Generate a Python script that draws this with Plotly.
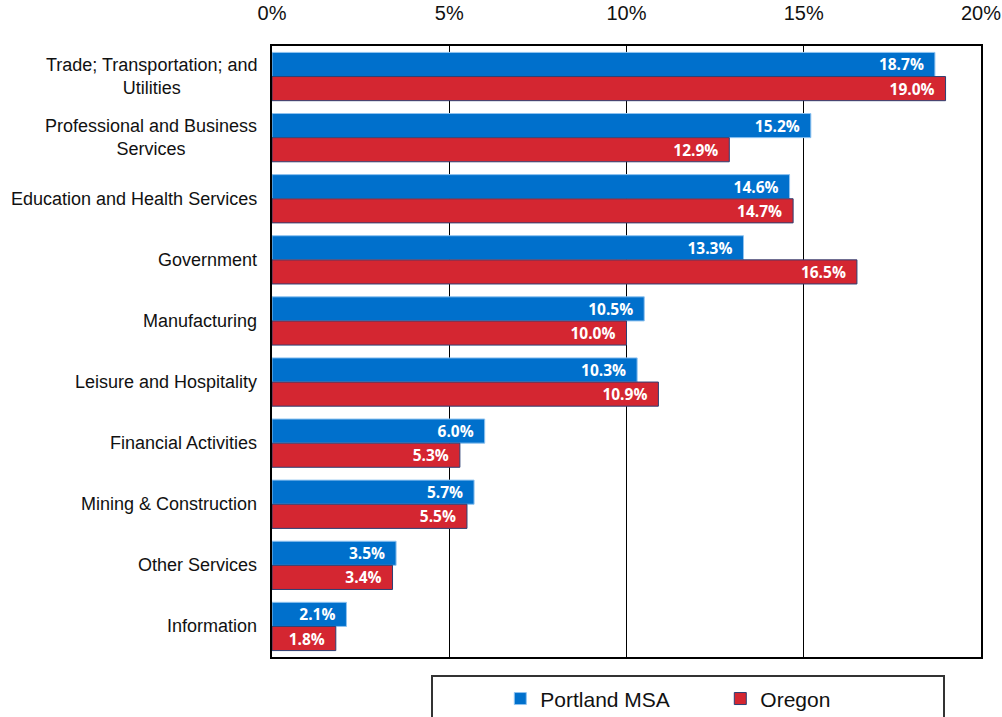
import plotly.graph_objects as go

categories = [
    "Trade; Transportation; and<br>Utilities",
    "Professional and Business<br>Services",
    "Education and Health Services",
    "Government",
    "Manufacturing",
    "Leisure and Hospitality",
    "Financial Activities",
    "Mining & Construction",
    "Other Services",
    "Information",
]
portland = [18.7, 15.2, 14.6, 13.3, 10.5, 10.3, 6.0, 5.7, 3.5, 2.1]
oregon = [19.0, 12.9, 14.7, 16.5, 10.0, 10.9, 5.3, 5.5, 3.4, 1.8]
tick_vals = [0, 5, 10, 15, 20]
tick_text = ["0%", "5%", "10%", "15%", "20%"]

label_font = dict(family="Open Sans, Liberation Sans, Arial", size=15.5, color="white", weight="bold")
PAD = "\u00a0\u00a0"

fig = go.Figure()
fig.add_trace(go.Bar(
    y=categories, x=portland, orientation="h", name="Portland MSA",
    marker=dict(color="#0070CC", line=dict(color="#8FC3F0", width=1)),
    text=[f"{v:.1f}%{PAD}" for v in portland], textposition="inside",
    insidetextanchor="end", textangle=0, textfont=label_font,
    constraintext="none",
))
fig.add_trace(go.Bar(
    y=categories, x=oregon, orientation="h", name="Oregon",
    marker=dict(color="#D42631", line=dict(color="#2B3F73", width=1)),
    text=[f"{v:.1f}%{PAD}" for v in oregon], textposition="inside",
    insidetextanchor="end", textangle=0, textfont=label_font,
    constraintext="none",
))

fig.update_layout(
    width=1002, height=717,
    margin=dict(l=272, r=21, t=46, b=60, autoexpand=False),
    paper_bgcolor="white", plot_bgcolor="white",
    barmode="group", bargap=0.21, bargroupgap=0.0,
    font=dict(family="Liberation Sans, Arial", color="#111111"),
    showlegend=True,
    legend=dict(
        orientation="h", x=0.322, xanchor="left", y=-0.035, yanchor="top",
        font=dict(size=21, family="Liberation Sans, Arial", color="#111111"),
        entrywidth=175, entrywidthmode="pixels",
        bgcolor="rgba(0,0,0,0)", borderwidth=0,
        itemclick=False,
    ),
    uniformtext=dict(mode=False),
)
fig.update_xaxes(
    range=[0, 20], side="top", tickvals=tick_vals, ticktext=tick_text,
    showgrid=True, gridcolor="black", gridwidth=1,
    showline=True, linecolor="black", linewidth=2, mirror=True,
    zeroline=False, ticks="", ticklabelstandoff=16,
    tickfont=dict(size=20, family="Liberation Sans, Arial", color="#111111"),
)
fig.update_yaxes(
    autorange="reversed", showgrid=False, ticks="", showticklabels=False,
    showline=True, linecolor="black", linewidth=2, mirror=True,
)
for cat in categories:
    fig.add_annotation(
        x=0, xref="paper", xanchor="right", xshift=-13,
        y=cat, yref="y", yanchor="middle",
        text=cat, showarrow=False, align="center",
        font=dict(size=18, family="Liberation Sans, Arial", color="#111111"),
    )
fig.add_shape(
    type="rect", xref="paper", yref="paper",
    x0=(432 - 272) / 709, x1=(944 - 272) / 709,
    y0=(657 - 676) / 611, y1=-0.3,
    line=dict(color="#333333", width=2), fillcolor="rgba(0,0,0,0)",
    layer="below",
)

fig.write_html("out.html")
